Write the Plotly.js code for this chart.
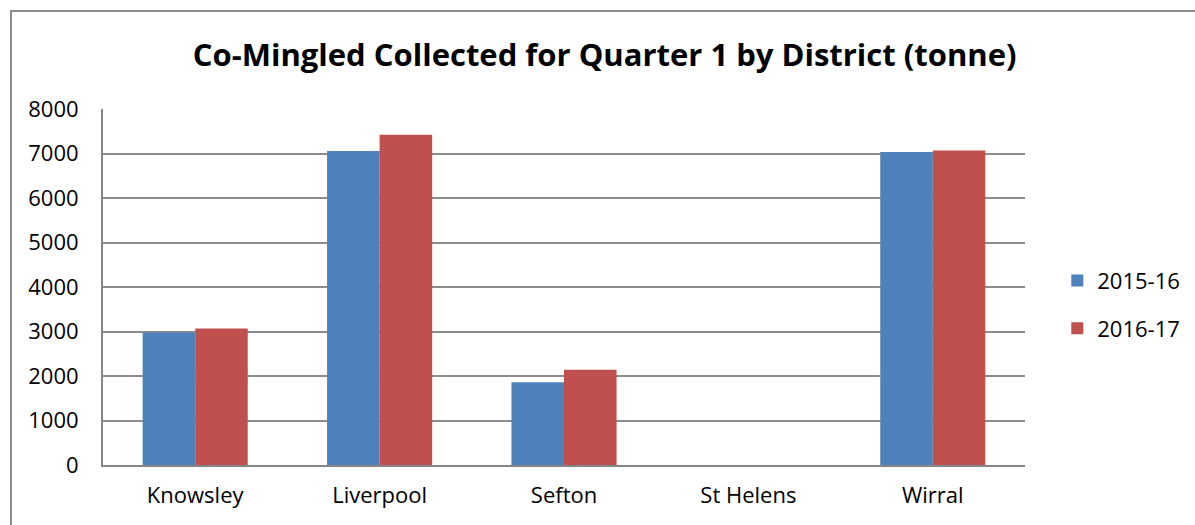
<!DOCTYPE html>
<html>
<head>
<meta charset="utf-8">
<script src="https://cdn.plot.ly/plotly-3.0.1.min.js"></script>
<style>
html,body{margin:0;padding:0;background:#fff;overflow:hidden;}
#frame{position:absolute;left:10px;top:10px;width:1200px;height:530px;border:2px solid #8c8c8c;box-sizing:border-box;pointer-events:none;z-index:5;}
#chart{position:absolute;left:0;top:0;width:1195px;height:525px;}
</style>
</head>
<body>
<div id="chart"></div>
<div id="frame"></div>
<script>
const districts = ["Knowsley", "Liverpool", "Sefton", "St Helens", "Wirral"];
const seriesNames = ["2015-16", "2016-17"];
const values2015 = [2975, 7055, 1860, null, 7035];
const values2016 = [3070, 7420, 2140, null, 7070];
const yTicks = [0, 1000, 2000, 3000, 4000, 5000, 6000, 7000, 8000];

const data = [
  {type:"bar", name:seriesNames[0], legendgroup:"a", x:districts, y:values2015, marker:{color:"#4F81BD"}},
  {type:"bar", name:seriesNames[1], legendgroup:"b", x:districts, y:values2016, marker:{color:"#C0504D"}}
];

const layout = {
  width:1195, height:525,
  margin:{l:103, r:170, t:109, b:60, autoexpand:false},
  paper_bgcolor:"#fff", plot_bgcolor:"#fff",
  font:{family:"Open Sans, sans-serif", color:"#000"},
  title:{text:"<b>Co-Mingled Collected for Quarter 1 by District (tonne)</b>", x:0.506, xanchor:"center", y:0.895, yanchor:"middle", xref:"container", yref:"container", font:{size:31, family:"Open Sans, sans-serif", color:"#000"}},
  barmode:"group", bargap:0.43, bargroupgap:0,
  xaxis:{type:"category", showline:true, linecolor:"#868686", linewidth:2, ticks:"", tickfont:{size:22}, ticklabelstandoff:10, showgrid:false, fixedrange:true},
  yaxis:{range:[0,8000], tickvals:yTicks, ticktext:yTicks.map(String), showline:true, linecolor:"#868686", linewidth:2, showgrid:true, gridcolor:"#8c8c8c", gridwidth:2, tickfont:{size:22}, ticks:"", ticklabelstandoff:18, zeroline:false, fixedrange:true},
  legend:{x:1.035, xanchor:"left", y:0.45, yanchor:"middle", font:{size:22}, traceorder:"grouped", tracegroupgap:16, itemwidth:30, bgcolor:"rgba(0,0,0,0)"},
  showlegend:true
};
Plotly.newPlot("chart", data, layout, {staticPlot:true, displayModeBar:false});
</script>
</body>
</html>
